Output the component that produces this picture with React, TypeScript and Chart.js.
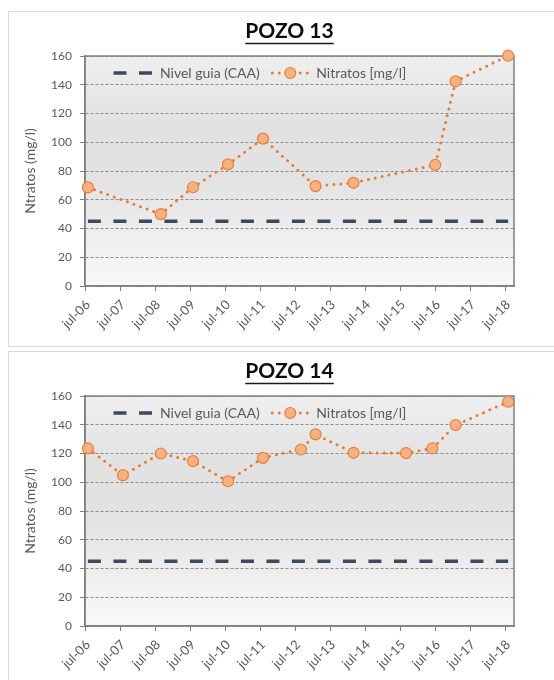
import React, { useEffect, useRef } from "react";
import { Chart, registerables } from "chart.js";

Chart.register(...registerables);

// ---------- data ----------
const tickLabels = [
  "jul-06", "jul-07", "jul-08", "jul-09", "jul-10", "jul-11", "jul-12",
  "jul-13", "jul-14", "jul-15", "jul-16", "jul-17", "jul-18",
];
const axisStart = "2006-07";
const axisEndYears = 12.25;
const nivelGuia = 45;

const pozo13Fechas = [
  "2006-08", "2008-09", "2009-08", "2010-08", "2011-08",
  "2013-02", "2014-03", "2016-07", "2017-02", "2018-08",
];
const pozo13Nitratos = [68.6, 50, 68.7, 84.6, 102.5, 69.5, 71.8, 84.2, 142.4, 160.2];

const pozo14Fechas = [
  "2006-08", "2007-08", "2008-09", "2009-08", "2010-08", "2011-08", "2012-09",
  "2013-02", "2014-03", "2015-09", "2016-06", "2017-02", "2018-08",
];
const pozo14Nitratos = [123.5, 104.9, 120, 114.7, 100.7, 117, 122.8, 133.3, 120.5, 120.3, 123.5, 139.8, 156];

// ---------- styles ----------
const FONT = "Lato";
const TEXT_GREY = "#595959";
const AXIS_GREY = "#808080";
const ORANGE = "#e47c35";
const MARKER_FILL = "#f5b183";
const MARKER_BORDER = "#e8803c";
const GUIDE = "#3e4a5c";
const TITLE_SIZE = 21;
const LEGEND_SIZE = 14;

function yearsSinceStart(f: string): number {
  const [y, m] = f.split("-").map(Number);
  const [y0, m0] = axisStart.split("-").map(Number);
  return ((y - y0) * 12 + (m - m0)) / 12;
}

const plotDecor = {
  id: "plotDecor",
  beforeDraw(chart: any) {
    const { ctx, chartArea: a } = chart;
    const g = ctx.createLinearGradient(0, a.top, 0, a.bottom);
    g.addColorStop(0, "#efefef");
    g.addColorStop(0.3, "#e1e1e1");
    g.addColorStop(0.55, "#e3e3e3");
    g.addColorStop(1, "#f9f9f9");
    ctx.save();
    ctx.fillStyle = g;
    ctx.fillRect(a.left, a.top, a.right - a.left, a.bottom - a.top);
    ctx.restore();
  },
  beforeDatasetsDraw(chart: any) {
    const { ctx, chartArea: a } = chart;
    ctx.save();
    ctx.strokeStyle = AXIS_GREY;
    ctx.lineWidth = 1.5;
    ctx.strokeRect(a.left, a.top, a.right - a.left, a.bottom - a.top);
    ctx.restore();
  },
  afterDraw(chart: any) {
    // underline of the title
    const tb = chart.titleBlock;
    if (!tb) return;
    const { ctx } = chart;
    const text = chart.options.plugins.title.text as string;
    ctx.save();
    ctx.font = `bold ${TITLE_SIZE}px ${FONT}`;
    const w = ctx.measureText(text).width;
    const cx = (tb.left + tb.right) / 2;
    const cy = tb.top + 7 + (TITLE_SIZE * 1.2) / 2;
    ctx.strokeStyle = "#1a1a1a";
    ctx.lineWidth = 1.5;
    ctx.beginPath();
    ctx.moveTo(cx - w / 2, cy + 12);
    ctx.lineTo(cx + w / 2, cy + 12);
    ctx.stroke();
    ctx.restore();
  },
};

const innerLegend = {
  id: "innerLegend",
  afterDatasetsDraw(chart: any) {
    const { ctx, chartArea: a } = chart;
    const ds = chart.data.datasets;
    const y = a.top + 17;
    let x = a.left + 28.5;
    ctx.save();
    ctx.font = `${LEGEND_SIZE}px ${FONT}`;
    ctx.textBaseline = "middle";
    ctx.fillStyle = TEXT_GREY;

    // guide sample
    const guide = ds[1];
    ctx.strokeStyle = guide.borderColor;
    ctx.lineWidth = guide.borderWidth;
    ctx.setLineDash(guide.borderDash);
    ctx.beginPath();
    ctx.moveTo(x, y);
    ctx.lineTo(x + 38.5, y);
    ctx.stroke();
    x += 46.5;
    ctx.setLineDash([]);
    ctx.fillText(guide.label, x, y);
    x += ctx.measureText(guide.label).width + 10.5;

    // nitratos sample
    const nit = ds[0];
    ctx.strokeStyle = nit.borderColor;
    ctx.lineWidth = nit.borderWidth;
    ctx.lineCap = "round";
    ctx.setLineDash(nit.borderDash);
    ctx.beginPath();
    ctx.moveTo(x + 2, y);
    ctx.lineTo(x + 40.5, y);
    ctx.stroke();
    ctx.setLineDash([]);
    ctx.beginPath();
    ctx.arc(x + 20, y, nit.pointRadius, 0, Math.PI * 2);
    ctx.fillStyle = nit.pointBackgroundColor;
    ctx.fill();
    ctx.strokeStyle = nit.pointBorderColor;
    ctx.lineWidth = nit.pointBorderWidth;
    ctx.stroke();
    x += 46;
    ctx.fillStyle = TEXT_GREY;
    ctx.fillText(nit.label, x, y);
    ctx.restore();
  },
};

function buildConfig(titulo: string, fechas: string[], valores: number[]): any {
  const puntos = fechas.map((f, i) => ({ x: yearsSinceStart(f), y: valores[i] }));
  const guia = [
    { x: yearsSinceStart(fechas[0]), y: nivelGuia },
    { x: yearsSinceStart(fechas[fechas.length - 1]), y: nivelGuia },
  ];
  return {
    type: "line",
    data: {
      datasets: [
        {
          label: "Nitratos [mg/l]",
          data: puntos,
          borderColor: ORANGE,
          borderWidth: 3,
          borderDash: [0, 7],
          borderCapStyle: "round",
          pointRadius: 5.5,
          pointBackgroundColor: MARKER_FILL,
          pointBorderColor: MARKER_BORDER,
          pointBorderWidth: 1.2,
          tension: 0,
          clip: false,
        },
        {
          label: "Nivel guia (CAA)",
          data: guia,
          borderColor: GUIDE,
          borderWidth: 3.5,
          borderDash: [13, 12.5],
          borderCapStyle: "butt",
          pointRadius: 0,
          tension: 0,
        },
      ],
    },
    options: {
      responsive: false,
      animation: false,
      devicePixelRatio: 1,
      layout: { padding: 0 },
      plugins: {
        legend: { display: false },
        tooltip: { enabled: false },
        title: {
          display: true,
          text: titulo,
          color: "#0d0d0d",
          font: { family: FONT, size: TITLE_SIZE, weight: "bold" },
          padding: { top: 7, bottom: 44 - 7 - TITLE_SIZE * 1.2 },
        },
      },
      scales: {
        x: {
          type: "linear",
          min: 0,
          max: axisEndYears,
          afterBuildTicks: (s: any) => {
            s.ticks = tickLabels.map((_, i) => ({ value: i }));
          },
          afterFit: (s: any) => {
            s.height = 59;
          },
          ticks: {
            autoSkip: false,
            minRotation: 45,
            maxRotation: 45,
            padding: 6,
            labelOffset: 3,
            color: TEXT_GREY,
            font: { family: FONT, size: 13 },
            callback: (v: number) => tickLabels[Math.round(v)] ?? "",
          },
          grid: {
            drawOnChartArea: false,
            drawTicks: true,
            tickLength: 5,
            tickColor: AXIS_GREY,
          },
          border: { display: true, color: AXIS_GREY, width: 1.5 },
        },
        y: {
          type: "linear",
          min: 0,
          max: 160,
          afterFit: (s: any) => {
            s.width = 76;
          },
          ticks: {
            stepSize: 20,
            padding: 8,
            color: TEXT_GREY,
            font: { family: FONT, size: 12 },
          },
          grid: {
            color: "#8c8c8c",
            lineWidth: 1,
            tickLength: 5,
            tickColor: AXIS_GREY,
          },
          border: { display: true, color: AXIS_GREY, width: 1.5, dash: [3, 2] },
          title: {
            display: true,
            text: "Ntratos (mg/l)",
            color: TEXT_GREY,
            font: { family: FONT, size: 14 },
            padding: { top: 13, bottom: 0 },
          },
        },
        yPad: {
          type: "linear",
          position: "right",
          display: true,
          afterFit: (s: any) => {
            s.width = 56;
          },
          ticks: { display: false },
          grid: { display: false },
          border: { display: false },
        },
      },
    },
    plugins: [plotDecor, innerLegend],
  };
}

function PozoChart({ titulo, fechas, valores, top }: { titulo: string; fechas: string[]; valores: number[]; top: number }) {
  const ref = useRef<HTMLCanvasElement>(null);
  useEffect(() => {
    const chart = new Chart(ref.current as HTMLCanvasElement, buildConfig(titulo, fechas, valores));
    return () => chart.destroy();
  }, [titulo, fechas, valores]);
  return (
    <div
      style={{
        position: "absolute",
        left: 8,
        top,
        width: 570,
        height: 336,
        border: "1px solid #d9d9d9",
        boxSizing: "border-box",
        background: "#ffffff",
      }}
    >
      <canvas ref={ref} width={561} height={333} style={{ display: "block", width: 561, height: 333 }} />
    </div>
  );
}

export default function App() {
  return (
    <div
      style={{
        position: "fixed",
        left: 0,
        top: 0,
        width: 554,
        height: 680,
        overflow: "hidden",
        background: "#ffffff",
      }}
    >
      <PozoChart titulo="POZO 13" fechas={pozo13Fechas} valores={pozo13Nitratos} top={11} />
      <PozoChart titulo="POZO 14" fechas={pozo14Fechas} valores={pozo14Nitratos} top={351} />
    </div>
  );
}
